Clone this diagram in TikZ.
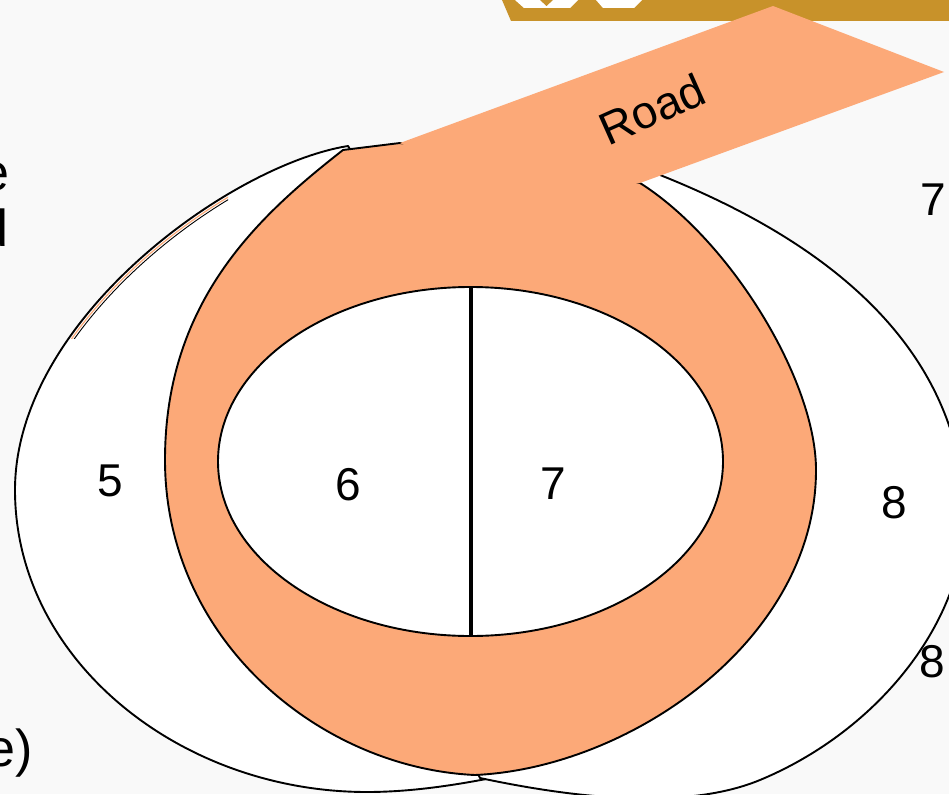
\documentclass[tikz,border=0pt]{standalone}
\usepackage{fontspec}
\setmainfont{Liberation Sans}
\definecolor{roadc}{HTML}{FCA978}
\definecolor{goldc}{HTML}{C8922A}
\definecolor{bgc}{HTML}{F9F9F9}
\begin{document}
\begin{tikzpicture}[x=1pt,y=-1pt,
  outl/.style={draw=black,line width=1.9pt,line join=round},
  num/.style={font=\fontsize{46}{50}\selectfont,inner sep=0pt,anchor=base},
  side/.style={font=\fontsize{52}{56}\selectfont,inner sep=0pt,anchor=base east}]
\useasboundingbox (0,0) rectangle (949,794);
\clip (0,0) rectangle (949,794);
% background and title bar
\fill[bgc] (0,0) rectangle (949,794);
\fill[goldc] (502,0) -- (949,0) -- (949,21) -- (511,21) -- cycle;
\fill[white] (515,0) -- (578,0) -- (570,8) -- (524,8) -- cycle;
\fill[goldc] (540,0) -- (553,0) -- (546.5,6) -- cycle;
\fill[white] (596,0) -- (642,0) -- (634,8) -- (603,8) -- cycle;
% left region
\filldraw[fill=white, outl] (348,146) .. controls (230,165) and (15,320) .. (15,490)
  .. controls (15,660) and (180,792) .. (367,792)
  .. controls (420,792) and (470,782) .. (497,777)
  -- (530,740) -- (360,165) -- cycle;
\begin{scope}
  \clip (60,180) rectangle (228,338);
  \draw[roadc, line width=1.2pt, shift={(1.9,1.9)}] (348,146) .. controls (230,165) and (15,320) .. (15,490);
  \draw[black, line width=0.9pt, shift={(3.5,3.5)}] (348,146) .. controls (230,165) and (15,320) .. (15,490);
\end{scope}
% right region
\filldraw[fill=white, outl] (650,170) -- (655,173)
  .. controls (800,230) and (960,330) .. (965,515)
  .. controls (965,620) and (880,730) .. (760,780)
  .. controls (680,813) and (560,795) .. (480,778)
  -- (460,740) -- (560,400) -- (620,190) -- cycle;
% road loop
\filldraw[fill=roadc, outl] (343,150) .. controls (260,215) and (165,300) .. (165,460)
  .. controls (165,640) and (320,768) .. (475,775)
  .. controls (630,768) and (816,640) .. (816,470)
  .. controls (816,380) and (730,240) .. (640,183)
  -- (400,143) -- cycle;
% road strip
\fill[roadc] (400,143) -- (773,6) -- (944,72) -- (640,183) -- (520,205) -- cycle;
% inner plot
\filldraw[fill=white, outl] (470.5,461.5) ellipse [x radius=252.5pt, y radius=174.5pt];
\coordinate (vt) at (470.5,287);
\coordinate (vb) at (470.5,636);
\draw[line width=4pt] (vt) -- (vb);
% labels
\node[num] (l5) at (110,496) {5};
\node[num] (l6) at (348,500) {6};
\node[num] (l7) at (553,499) {7};
\node[num] (l8) at (894,518) {8};
\node[num] (r7) at (933,215) {7};
\node[num] (r8) at (932,677) {8};
\node[font=\fontsize{46}{50}\selectfont, inner sep=0pt, rotate=24] (road) at (652,109) {Road};
\node[side] (te) at (10,191) {e};
\node[side] (td) at (9,247) {d};
\node[side] (be) at (33,766) {e)};
\end{tikzpicture}
\end{document}
